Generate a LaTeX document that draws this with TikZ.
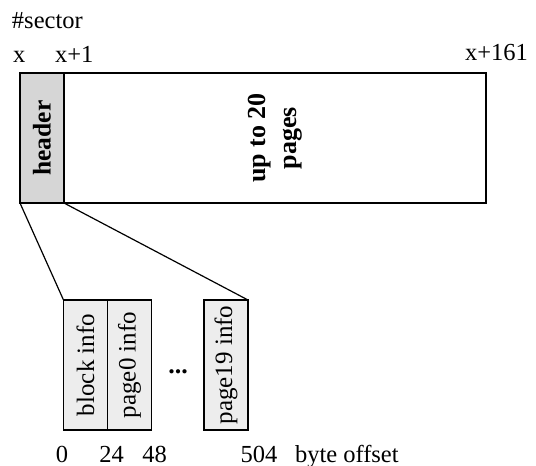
\documentclass[tikz,border=0pt]{standalone}
\usepackage{fontspec}
\setmainfont{Liberation Serif}
\begin{document}
\begin{tikzpicture}[x=1pt,y=-1pt,
  every node/.style={inner sep=0pt, outer sep=0pt},
  lbl/.style={font=\fontsize{24.5}{28}\selectfont, anchor=base},
  hdrfill/.style={draw, line width=1.2pt, fill=black!16},
  infobox/.style={draw, line width=1.2pt, fill=black!7,
    minimum width=44pt, minimum height=130pt,
    font=\fontsize{25}{29}\selectfont},
  seg/.style={line width=1.2pt}]
\useasboundingbox (0,0) rectangle (536,466);

% sector layout
\node[draw, line width=1.2pt, fill=white, minimum width=422pt, minimum height=130pt,
      font=\fontsize{26}{30}\selectfont\bfseries] (pages) at (275,138)
  {\rotatebox{90}{\begin{tabular}{@{}c@{}}up to 20\\[1pt]pages\end{tabular}}};
\node[hdrfill, minimum width=44pt, minimum height=130pt,
      font=\fontsize{25.5}{29}\selectfont\bfseries] (header) at (42,138)
  {\rotatebox{90}{header}};

% sector numbers
\node[lbl, anchor=base west] (title) at (12,28) {\#sector};
\node[lbl, anchor=base west] (sx) at (13,62) {x};
\node[lbl, anchor=base west] (sx1) at (55,62) {x+1};
\node[lbl, anchor=base west] (sxe) at (465,60) {x+161};

% header contents
\node[infobox] (blk) at (85.5,365) {\rotatebox{90}{block info}};
\node[infobox] (pg0) at (129.5,365) {\rotatebox{90}{page0 info}};
\node[infobox] (pg19) at (226,365) {\rotatebox{90}{page19 info}};
\node[font=\fontsize{26}{28}\selectfont\bfseries] (dots) at (178,372) {...};

% zoom lines
\draw[seg] (header.south west) -- (blk.north west);
\draw[seg] (header.south east) -- (pg19.north east);

% byte offsets
\node[lbl] (o0) at (62,462) {0};
\node[lbl] (o24) at (111.5,462) {24};
\node[lbl] (o48) at (154.5,462) {48};
\node[lbl] (o504) at (259,462) {504};
\node[lbl, anchor=base west] (ounit) at (295,462) {byte offset};
\end{tikzpicture}
\end{document}
